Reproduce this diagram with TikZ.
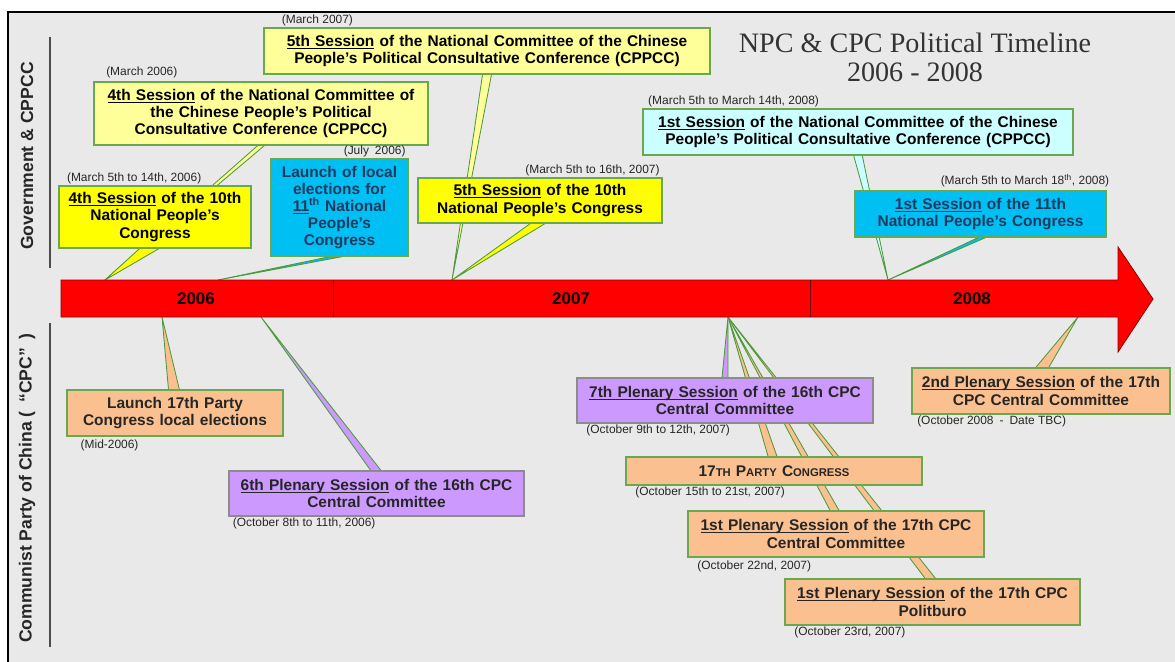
\documentclass[tikz,border=0pt]{standalone}
\usepackage{fontspec}
\setmainfont{Liberation Sans}
\newfontfamily\titlefont{Liberation Serif}
\usetikzlibrary{positioning, calc}

\definecolor{panelgray}{HTML}{E9E9E9}
\definecolor{barred}{HTML}{FF0000}
\definecolor{yel}{HTML}{FFFF00}
\definecolor{paleyel}{HTML}{FFFF99}
\definecolor{skyblue}{HTML}{00BFF3}
\definecolor{palecyan}{HTML}{CCFFFF}
\definecolor{peach}{HTML}{FAC090}
\definecolor{lilac}{HTML}{CC99FF}
\definecolor{edgegreen}{HTML}{6AA84F}
\definecolor{linegreen}{HTML}{4E9A3A}
\definecolor{navy}{HTML}{1F3A60}

\newcommand{\ulined}[1]{\leavevmode\setbox0\hbox{#1}\rlap{\rule[-1.6pt]{\wd0}{0.6pt}}\box0\relax}

\pgfdeclarelayer{panel}
\pgfdeclarelayer{wedges}
\pgfsetlayers{panel,wedges,main}

\begin{document}
\begin{tikzpicture}[x=0.025cm, y=-0.025cm,
    box/.style={draw=edgegreen, line width=0.9pt, inner xsep=0pt, inner ysep=2pt,
      align=center, font=\bfseries\fontsize{11}{12.2}\selectfont},
    date/.style={inner sep=1pt, font=\fontsize{8.5}{10}\selectfont, text=black!85},
    pointer/.style={draw=linegreen, line width=0.6pt, line join=round},
    year/.style={font=\bfseries\fontsize{12}{14}\selectfont},
    side/.style={rotate=90, font=\bfseries\fontsize{12.5}{14}\selectfont, text=black!85}]

    \useasboundingbox (0,0) rectangle (1175,662);
    \begin{pgfonlayer}{panel}
        \fill[white] (0,0) rectangle (1175,662);
        \filldraw[fill=panelgray, draw=black, line width=1.6pt] (8,12) rectangle (1195,685);
    \end{pgfonlayer}

    % side headings
    \draw[black!70, line width=0.8pt] (50,37) -- (50,268);
    \draw[black!70, line width=0.8pt] (50,323) -- (50,647);
    \node[side] (govlabel) at (27,156) {Government \& CPPCC};
    \node[side] (cpclabel) at (27,488) {Communist Party of China (\enspace“CPC”\enspace)};

    % title
    \node[font=\titlefont\fontsize{20}{22}\selectfont, text=black!80] (title) at (915,43) {NPC \& CPC Political Timeline};
    \node[font=\titlefont\fontsize{20}{22}\selectfont, text=black!80] (subtitle) at (915,72) {2006 - 2008};

    % timeline bar
    \filldraw[fill=barred, draw=red!55!black, line width=0.6pt]
        (61,280) -- (1118,280) -- (1118,247) -- (1153,299) -- (1118,352) -- (1118,317) -- (61,317) -- cycle;
    \draw[red!40!black, line width=0.6pt] (333,280) -- (333,317) (810,280) -- (810,317);
    \node[year] (y2006) at (196,299) {2006};
    \node[year] (y2007) at (571,299) {2007};
    \node[year] (y2008) at (972,299) {2008};

    \coordinate (mar06) at (105,280);
    \coordinate (jul06) at (218,280);
    \coordinate (mar07) at (452,280);
    \coordinate (mar08) at (888,280);
    \coordinate (mid06) at (162,317);
    \coordinate (oct06) at (261,317);
    \coordinate (oct07) at (728,317);
    \coordinate (oct08) at (1078,317);

    % government & cppcc
    \node[box, fill=paleyel, text width=8.35cm, minimum height=1.575cm] (cppccA) at (261,113.5)
        {\ulined{4th Session} of the National Committee of\\the Chinese People's Political\\Consultative Conference (CPPCC)};
    \node[box, fill=yel, text width=4.8cm, minimum height=1.55cm] (npcA) at (155,217)
        {\ulined{4th Session} of the 10th\\National People's\\Congress};
    \node[box, fill=skyblue, text=navy, text width=3.425cm, minimum height=2.425cm] (local) at (339.5,207.5)
        {Launch of local\\elections for\\\ulined{11}\textsuperscript{th} National\\People's\\Congress};
    \node[box, fill=paleyel, text width=11.15cm, minimum height=1.15cm] (cppccB) at (487,51)
        {\ulined{5th Session} of the National Committee of the Chinese\\People's Political Consultative Conference (CPPCC)};
    \node[box, fill=yel, text width=6.1cm, minimum height=1.125cm] (npcB) at (540,200.5)
        {\ulined{5th Session} of the 10th\\National People's Congress};
    \node[box, fill=palecyan, text width=10.75cm, minimum height=1.15cm] (cppccC) at (858,132)
        {\ulined{1st Session} of the National Committee of the Chinese\\People's Political Consultative Conference (CPPCC)};
    \node[box, fill=skyblue, text=navy, text width=6.275cm, minimum height=1.15cm] (npcC) at (980.5,214)
        {\ulined{1st Session} of the 11th\\National People's Congress};

    \node[date, above right=0pt and 5pt of npcA.north west] (dnpcA) {(March 5th to 14th, 2006)};
    \node[date, above right=1pt and 8pt of cppccA.north west] (dcppccA) {(March 2006)};
    \node[date, above left=0pt and 1pt of local.north east] (dlocal) {(July\enspace2006)};
    \node[date, above right=0pt and 12pt of cppccB.north west] (dcppccB) {(March 2007)};
    \node[date, above left=0pt and 1pt of npcB.north east] (dnpcB) {(March 5th to 16th, 2007)};
    \node[date, above right=0pt and 3pt of cppccC.north west] (dcppccC) {(March 5th to March 14th, 2008)};
    \node[date, above left=1pt and -3pt of npcC.north east] (dnpcC) {(March 5th to March 18\textsuperscript{th}, 2008)};

    % communist party of china
    \node[box, fill=peach, text=black!85, text width=5.4cm, minimum height=1.15cm] (partyLocal) at (175,413)
        {Launch 17th Party\\Congress local elections};
    \node[box, fill=lilac, draw=black!45, text=black!85, text width=7.375cm, minimum height=1.125cm] (plenary6) at (376.5,493.5)
        {\ulined{6th Plenary Session} of the 16th CPC\\Central Committee};
    \node[box, fill=lilac, draw=black!45, text=black!85, text width=7.4cm, minimum height=1.125cm] (plenary7) at (725,400.5)
        {\ulined{7th Plenary Session} of the 16th CPC\\Central Committee};
    \node[box, fill=peach, text=black!85, text width=7.4cm, minimum height=0.7cm] (congress) at (774,471)
        {17{\fontsize{8}{10}\selectfont TH} P{\fontsize{8}{10}\selectfont ARTY} C{\fontsize{8}{10}\selectfont ONGRESS}};
    \node[box, fill=peach, text=black!85, text width=7.4cm, minimum height=1.15cm] (plenaryCC) at (836,534)
        {\ulined{1st Plenary Session} of the 17th CPC\\Central Committee};
    \node[box, fill=peach, text=black!85, text width=7.375cm, minimum height=1.15cm] (politburo) at (932.5,602)
        {\ulined{1st Plenary Session} of the 17th CPC\\Politburo};
    \node[box, fill=peach, text=black!85, text width=6.45cm, minimum height=1.15cm] (plenary2) at (1041,391)
        {\ulined{2nd Plenary Session} of the 17th\\CPC Central Committee};

    \node[date, below right=1pt and 9pt of partyLocal.south west] (dparty) {(Mid-2006)};
    \node[date, below right=0pt and 2pt of plenary6.south west] (dplenary6) {(October 8th to 11th, 2006)};
    \node[date, below right=0pt and 6pt of plenary7.south west] (dplenary7) {(October 9th to 12th, 2007)};
    \node[date, below right=0pt and 6pt of congress.south west] (dcongress) {(October 15th to 21st, 2007)};
    \node[date, below right=1pt and 6pt of plenaryCC.south west] (dplenaryCC) {(October 22nd, 2007)};
    \node[date, below right=0pt and 6pt of politburo.south west] (dpolitburo) {(October 23rd, 2007)};
    \node[date, below right=0pt and 3pt of plenary2.south west] (dplenary2) {(October 2008\enspace-\enspace Date TBC)};

    % callout wedges, behind the boxes
    \begin{pgfonlayer}{wedges}
        \filldraw[pointer, fill=paleyel] ($(cppccA.south west)!.49!(cppccA.south east)$) -- (mar06) -- ($(cppccA.south west)!.51!(cppccA.south east)$);
        \filldraw[pointer, fill=yel] ($(npcA.south west)!.42!(npcA.south east)$) -- (mar06) -- ($(npcA.south west)!.52!(npcA.south east)$);
        \filldraw[pointer, fill=skyblue] ($(local.south west)!.43!(local.south east)$) -- (jul06) -- ($(local.south west)!.52!(local.south east)$);
        \filldraw[pointer, fill=paleyel] ($(cppccB.south west)!.49!(cppccB.south east)$) -- (mar07) -- ($(cppccB.south west)!.51!(cppccB.south east)$);
        \filldraw[pointer, fill=yel] ($(npcB.south west)!.46!(npcB.south east)$) -- (mar07) -- ($(npcB.south west)!.52!(npcB.south east)$);
        \filldraw[pointer, fill=palecyan] ($(cppccC.south west)!.49!(cppccC.south east)$) -- (mar08) -- ($(cppccC.south west)!.51!(cppccC.south east)$);
        \filldraw[pointer, fill=skyblue] ($(npcC.south west)!.49!(npcC.south east)$) -- (mar08) -- ($(npcC.south west)!.52!(npcC.south east)$);

        \filldraw[pointer, fill=peach] ($(partyLocal.north west)!.47!(partyLocal.north east)$) -- (mid06) -- ($(partyLocal.north west)!.52!(partyLocal.north east)$);
        \filldraw[pointer, fill=lilac] ($(plenary6.north west)!.48!(plenary6.north east)$) -- (oct06) -- ($(plenary6.north west)!.515!(plenary6.north east)$);
        \filldraw[pointer, fill=peach] ($(politburo.north west)!.475!(politburo.north east)$) -- (oct07) -- ($(politburo.north west)!.51!(politburo.north east)$);
        \filldraw[pointer, fill=peach] ($(plenaryCC.north west)!.48!(plenaryCC.north east)$) -- (oct07) -- ($(plenaryCC.north west)!.51!(plenaryCC.north east)$);
        \filldraw[pointer, fill=peach] ($(congress.north west)!.48!(congress.north east)$) -- (oct07) -- ($(congress.north west)!.51!(congress.north east)$);
        \filldraw[pointer, fill=lilac] ($(plenary7.north west)!.49!(plenary7.north east)$) -- (oct07) -- ($(plenary7.north west)!.51!(plenary7.north east)$);
        \filldraw[pointer, fill=peach] ($(plenary2.north west)!.48!(plenary2.north east)$) -- (oct08) -- ($(plenary2.north west)!.53!(plenary2.north east)$);
    \end{pgfonlayer}

\end{tikzpicture}
\end{document}
